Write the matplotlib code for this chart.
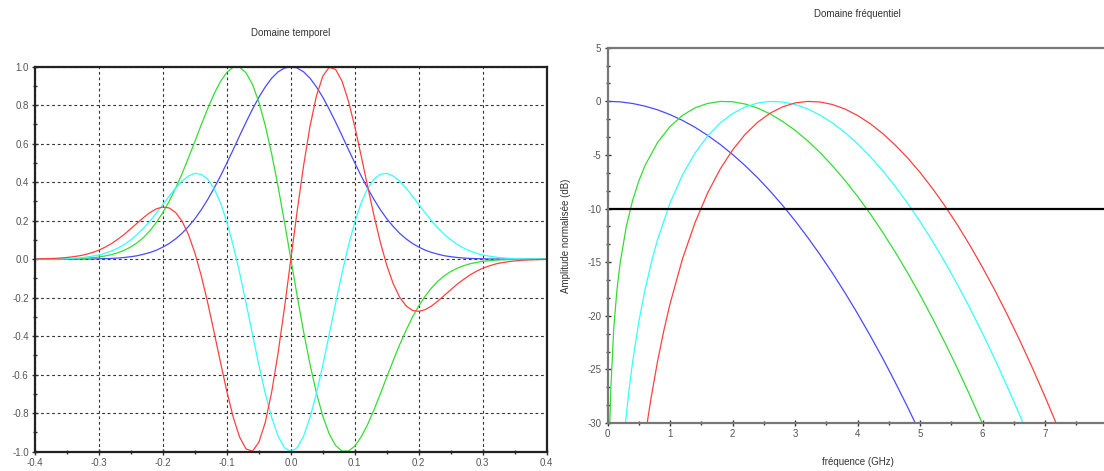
"""Impulsions gaussiennes : domaine temporel et domaine fréquentiel."""

import matplotlib
matplotlib.use("Agg")
import matplotlib.pyplot as plt
from matplotlib.ticker import FormatStrFormatter, MultipleLocator

plt.rcParams["font.family"] = ["Liberation Sans", "DejaVu Sans"]
plt.rcParams["axes.unicode_minus"] = False

# --- domaine temporel (ns) ---
temps = [
    -0.40, -0.39, -0.38, -0.37, -0.36, -0.35, -0.34, -0.33, -0.32, -0.31,
    -0.30, -0.29, -0.28, -0.27, -0.26, -0.25, -0.24, -0.23, -0.22, -0.21,
    -0.20, -0.19, -0.18, -0.17, -0.16, -0.15, -0.14, -0.13, -0.12, -0.11,
    -0.10, -0.09, -0.08, -0.07, -0.06, -0.05, -0.04, -0.03, -0.02, -0.01,
    0.00,
    0.01, 0.02, 0.03, 0.04, 0.05, 0.06, 0.07, 0.08, 0.09, 0.10,
    0.11, 0.12, 0.13, 0.14, 0.15, 0.16, 0.17, 0.18, 0.19, 0.20,
    0.21, 0.22, 0.23, 0.24, 0.25, 0.26, 0.27, 0.28, 0.29, 0.30,
    0.31, 0.32, 0.33, 0.34, 0.35, 0.36, 0.37, 0.38, 0.39, 0.40,
]
gauss = [
    0.000, 0.000, 0.000, 0.000, 0.000, 0.000, 0.000, 0.001, 0.001, 0.001,
    0.002, 0.003, 0.004, 0.006, 0.009, 0.013, 0.018, 0.026, 0.035, 0.047,
    0.063, 0.082, 0.106, 0.135, 0.170, 0.210, 0.257, 0.310, 0.369, 0.432,
    0.500, 0.570, 0.642, 0.712, 0.779, 0.841, 0.895, 0.940, 0.973, 0.993,
    1.000,
    0.993, 0.973, 0.940, 0.895, 0.841, 0.779, 0.712, 0.642, 0.570, 0.500,
    0.432, 0.369, 0.310, 0.257, 0.210, 0.170, 0.135, 0.106, 0.082, 0.063,
    0.047, 0.035, 0.026, 0.018, 0.013, 0.009, 0.006, 0.004, 0.003, 0.002,
    0.001, 0.001, 0.001, 0.000, 0.000, 0.000, 0.000, 0.000, 0.000, 0.000,
]
deriv1 = [
    0.000, 0.000, 0.000, 0.001, 0.001, 0.001, 0.002, 0.003, 0.005, 0.008,
    0.011, 0.017, 0.024, 0.034, 0.047, 0.064, 0.086, 0.114, 0.149, 0.192,
    0.243, 0.302, 0.370, 0.445, 0.527, 0.612, 0.699, 0.782, 0.859, 0.923,
    0.971, 0.997, 0.997, 0.968, 0.908, 0.816, 0.695, 0.547, 0.378, 0.193,
    0.000,
    -0.193, -0.378, -0.547, -0.695, -0.816, -0.908, -0.968, -0.997, -0.997, -0.971,
    -0.923, -0.859, -0.782, -0.699, -0.612, -0.527, -0.445, -0.370, -0.302, -0.243,
    -0.192, -0.149, -0.114, -0.086, -0.064, -0.047, -0.034, -0.024, -0.017, -0.011,
    -0.008, -0.005, -0.003, -0.002, -0.001, -0.001, -0.001, 0.000, 0.000, 0.000,
]
deriv2 = [
    0.000, 0.001, 0.001, 0.001, 0.002, 0.003, 0.005, 0.007, 0.011, 0.016,
    0.022, 0.031, 0.043, 0.058, 0.077, 0.101, 0.129, 0.162, 0.199, 0.241,
    0.284, 0.328, 0.370, 0.406, 0.432, 0.446, 0.441, 0.416, 0.367, 0.293,
    0.193, 0.070, -0.072, -0.228, -0.390, -0.550, -0.697, -0.822, -0.919, -0.979,
    -1.000,
    -0.979, -0.919, -0.822, -0.697, -0.550, -0.390, -0.228, -0.072, 0.070, 0.193,
    0.293, 0.367, 0.416, 0.441, 0.446, 0.432, 0.406, 0.370, 0.328, 0.284,
    0.241, 0.199, 0.162, 0.129, 0.101, 0.077, 0.058, 0.043, 0.031, 0.022,
    0.016, 0.011, 0.007, 0.005, 0.003, 0.002, 0.001, 0.001, 0.001, 0.000,
]
deriv3 = [
    0.001, 0.002, 0.003, 0.004, 0.006, 0.009, 0.013, 0.018, 0.025, 0.035,
    0.047, 0.063, 0.082, 0.105, 0.130, 0.159, 0.188, 0.217, 0.243, 0.262,
    0.271, 0.266, 0.242, 0.197, 0.127, 0.032, -0.087, -0.226, -0.379, -0.536,
    -0.688, -0.822, -0.925, -0.986, -0.997, -0.951, -0.848, -0.691, -0.488, -0.253,
    0.000,
    0.253, 0.488, 0.691, 0.848, 0.951, 0.997, 0.986, 0.925, 0.822, 0.688,
    0.536, 0.379, 0.226, 0.087, -0.032, -0.127, -0.197, -0.242, -0.266, -0.271,
    -0.262, -0.243, -0.217, -0.188, -0.159, -0.130, -0.105, -0.082, -0.063, -0.047,
    -0.035, -0.025, -0.018, -0.013, -0.009, -0.006, -0.004, -0.003, -0.002, -0.001,
]

# --- domaine fréquentiel (GHz, dB) ---
freq_gauss = [0.0, 0.2, 0.4, 0.6, 0.8, 1.0, 1.2, 1.4, 1.6, 1.8, 2.0, 2.2, 2.4,
              2.6, 2.8, 3.0, 3.2, 3.4, 3.6, 3.8, 4.0, 4.2, 4.4, 4.6, 4.8, 5.0]
db_gauss = [0.00, -0.05, -0.20, -0.45, -0.79, -1.24, -1.78, -2.42, -3.17, -4.01,
            -4.95, -5.99, -7.12, -8.36, -9.70, -11.13, -12.67, -14.30, -16.03,
            -17.86, -19.79, -21.82, -23.94, -26.17, -28.50, -30.92]

freq_d1 = [0.03, 0.05, 0.1, 0.15, 0.2, 0.3, 0.4, 0.5, 0.6, 0.8, 1.0, 1.2, 1.4,
           1.6, 1.8, 2.0, 2.2, 2.4, 2.6, 2.8, 3.0, 3.2, 3.4, 3.6, 3.8, 4.0,
           4.2, 4.4, 4.6, 4.8, 5.0, 5.2, 5.4, 5.6, 5.8, 6.0, 6.2]
db_d1 = [-31.57, -27.14, -21.12, -17.62, -15.14, -11.68, -9.27, -7.44, -5.99,
         -3.84, -2.35, -1.31, -0.61, -0.20, -0.01, -0.04, -0.25, -0.63, -1.17,
         -1.87, -2.70, -3.67, -4.78, -6.02, -7.38, -8.86, -10.46, -12.19,
         -14.03, -15.98, -18.05, -20.24, -22.53, -24.93, -27.45, -30.07, -32.81]

freq_d2 = [0.25, 0.3, 0.35, 0.4, 0.5, 0.6, 0.7, 0.8, 1.0, 1.2, 1.4, 1.6, 1.8,
           2.0, 2.2, 2.4, 2.6, 2.8, 3.0, 3.2, 3.4, 3.6, 3.8, 4.0, 4.2, 4.4,
           4.6, 4.8, 5.0, 5.2, 5.4, 5.6, 5.8, 6.0, 6.2, 6.4, 6.6, 6.8]
db_d2 = [-32.40, -29.27, -26.63, -24.36, -20.59, -17.56, -15.05, -12.91, -9.48,
         -6.86, -4.82, -3.25, -2.04, -1.15, -0.53, -0.16, -0.01, -0.06, -0.29,
         -0.70, -1.28, -2.02, -2.91, -3.95, -5.13, -6.45, -7.91, -9.49, -11.21,
         -13.05, -15.01, -17.10, -19.31, -21.64, -24.09, -26.66, -29.34, -32.13]

freq_d3 = [0.6, 0.65, 0.7, 0.8, 0.9, 1.0, 1.2, 1.4, 1.6, 1.8, 2.0, 2.2, 2.4,
           2.6, 2.8, 3.0, 3.2, 3.4, 3.6, 3.8, 4.0, 4.2, 4.4, 4.6, 4.8, 5.0,
           5.2, 5.4, 5.6, 5.8, 6.0, 6.2, 6.4, 6.6, 6.8, 7.0, 7.2]
db_d3 = [-31.41, -29.40, -27.55, -24.26, -21.40, -18.89, -14.68, -11.31, -8.57,
         -6.34, -4.54, -3.09, -1.96, -1.11, -0.52, -0.15, -0.01, -0.06, -0.30,
         -0.72, -1.32, -2.07, -2.99, -4.06, -5.27, -6.63, -8.13, -9.77, -11.54,
         -13.45, -15.49, -17.65, -19.94, -22.35, -24.89, -27.55, -30.33]

seuil_db = -10

couleurs = ["#4a4aff", "#33dd33", "#33ffff", "#ff4040"]
tick_col = "#555555"

fig = plt.figure(figsize=(11.04, 4.71), dpi=100)

# Domaine temporel
ax1 = fig.add_axes([0.0317, 0.041, 0.4635, 0.8174])
for y, c in zip([gauss, deriv1, deriv2, deriv3], couleurs):
    ax1.plot(temps, y, color=c, lw=0.9)
ax1.set_xlim(-0.4, 0.4)
ax1.set_ylim(-1.0, 1.0)
ax1.xaxis.set_major_locator(MultipleLocator(0.1))
ax1.xaxis.set_minor_locator(MultipleLocator(0.05))
ax1.yaxis.set_major_locator(MultipleLocator(0.2))
ax1.yaxis.set_minor_locator(MultipleLocator(0.1))
ax1.xaxis.set_major_formatter(FormatStrFormatter("%.1f"))
ax1.yaxis.set_major_formatter(FormatStrFormatter("%.1f"))
ax1.grid(True, which="major", color="#333333", lw=0.8, linestyle=(0, (2.5, 2.5)))
ax1.set_title("Domaine temporel", fontsize=7, pad=22, color="#333333")
for s in ax1.spines.values():
    s.set_linewidth(1.6)
    s.set_color("#222222")

# Domaine fréquentiel
ax2 = fig.add_axes([0.5503, 0.1019, 0.4529, 0.7968])
for f, d, c in zip([freq_gauss, freq_d1, freq_d2, freq_d3],
                   [db_gauss, db_d1, db_d2, db_d3], couleurs):
    ax2.plot(f, d, color=c, lw=0.9)
ax2.axhline(seuil_db, color="black", lw=1.6)
ax2.set_xlim(0, 8)
ax2.set_ylim(-30, 5)
ax2.xaxis.set_major_locator(MultipleLocator(1))
ax2.xaxis.set_minor_locator(MultipleLocator(0.5))
ax2.yaxis.set_major_locator(MultipleLocator(5))
ax2.yaxis.set_minor_locator(MultipleLocator(5 / 3))
ax2.set_title("Domaine fréquentiel", fontsize=7, pad=22, color="#333333")
ax2.set_xlabel("fréquence (GHz)", fontsize=7, labelpad=13, color="#333333")
ax2.set_ylabel("Amplitude normalisée (dB)", fontsize=7, labelpad=12, color="#333333")
for s in ax2.spines.values():
    s.set_linewidth(1.6)
    s.set_color("#777777")

for ax in (ax1, ax2):
    ax.tick_params(which="major", direction="inout", length=5, width=1,
                   labelsize=7, labelcolor=tick_col, color="#333333", pad=2)
    ax.tick_params(which="minor", direction="inout", length=3, width=1, color="#333333")

fig.savefig("out.png", dpi=100)
